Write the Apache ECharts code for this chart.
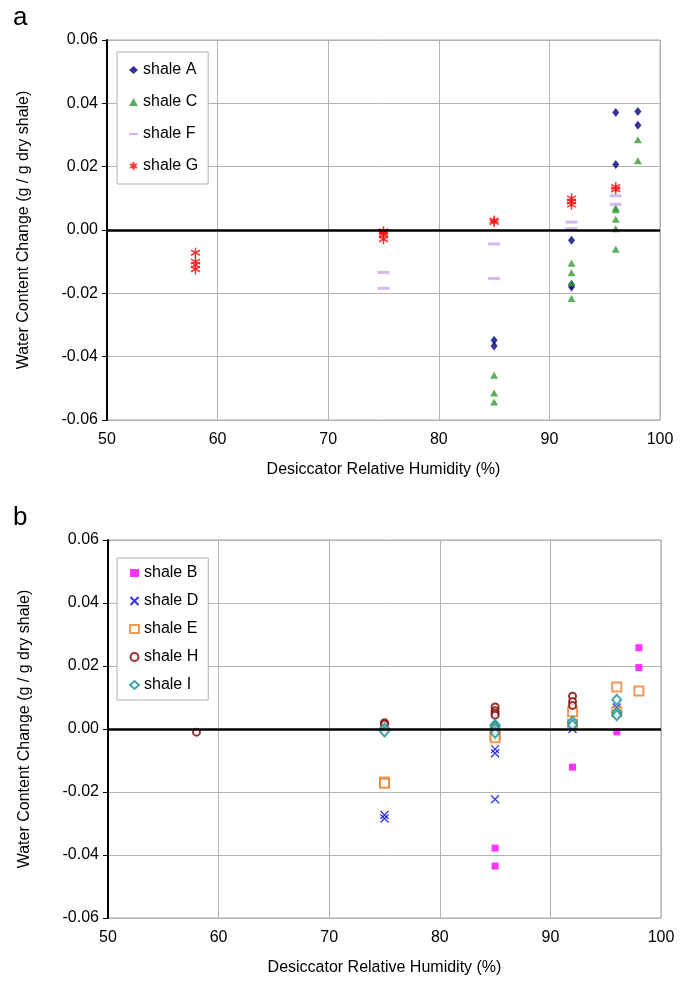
<!DOCTYPE html>
<html lang="en">
<head>
  <meta charset="utf-8">
  <title>Shale water content</title>
  <script src="https://cdn.jsdelivr.net/npm/echarts@6/dist/echarts.min.js"></script>
  <style>
    html, body { margin: 0; padding: 0; background: #fff; }
    #main { width: 680px; height: 982px; }
  </style>
</head>
<body>
  <div id="main"></div>
  <script>
    // panel a
    var shaleA = [[85, -0.0348], [85, -0.0366], [92, -0.0032], [92, -0.0172], [92, -0.0180],
                  [96, 0.0371], [96, 0.0207], [98, 0.0374], [98, 0.0331]];
    var shaleC = [[85, -0.0459], [85, -0.0515], [85, -0.0543],
                  [92, -0.0105], [92, -0.0135], [92, -0.0167], [92, -0.0216],
                  [96, 0.0070], [96, 0.0064], [96, 0.0034], [96, 0.0004], [96, -0.0061],
                  [98, 0.0285], [98, 0.0219]];
    var shaleF = [[75, -0.0134], [75, -0.0184], [85, -0.0044], [85, -0.0153],
                  [92, 0.0025], [92, 0.0004], [96, 0.0108], [96, 0.0081]];
    var shaleG = [[58, -0.0072], [58, -0.0100], [58, -0.0110], [58, -0.0124],
                  [75, -0.0004], [75, -0.0010], [75, -0.0016], [75, -0.0029],
                  [85, 0.0030], [85, 0.0025],
                  [92, 0.0100], [92, 0.0090], [92, 0.0080],
                  [96, 0.0136], [96, 0.0128]];
    // panel b
    var shaleB = [[85, -0.0378], [85, -0.0435], [92, -0.0121], [96, -0.0009],
                  [98, 0.0258], [98, 0.0195]];
    var shaleD = [[75, -0.0273], [75, -0.0284], [85, -0.0064], [85, -0.0077], [85, -0.0223],
                  [92, 0.0000], [96, 0.0068], [96, 0.0060]];
    var shaleE = [[75, -0.0168], [75, -0.0172], [85, -0.0020], [85, -0.0028],
                  [92, 0.0055], [92, 0.0015], [96, 0.0133], [96, 0.0055], [98, 0.0121]];
    var shaleH = [[58, -0.0010], [75, 0.0020], [75, 0.0015],
                  [85, 0.0070], [85, 0.0058], [85, 0.0050], [85, 0.0044],
                  [92, 0.0104], [92, 0.0087], [92, 0.0075]];
    var shaleI = [[75, 0.0002], [75, -0.0008], [85, 0.0013], [85, 0.0007], [85, -0.0001], [85, -0.0012],
                  [92, 0.0023], [92, 0.0013], [96, 0.0093], [96, 0.0052], [96, 0.0044]];

    var xTitle = 'Desiccator Relative Humidity (%)';
    var yTitle = 'Water Content Change (g / g dry shale)';
    var font = 'Liberation Sans, Arial, sans-serif';

    var asterisk = 'path://M5,0V10M0.7,2.5L9.3,7.5M0.7,7.5L9.3,2.5';
    var cross = 'path://M0,0L10,10M0,10L10,0';

    var myChart = echarts.init(document.getElementById('main'));

    function xAxisFor(idx) {
      return {
        gridIndex: idx, type: 'value', min: 50, max: 100, interval: 10,
        name: xTitle, nameLocation: 'middle', nameGap: 42,
        nameTextStyle: { fontFamily: font, fontSize: 16, color: '#000' },
        axisLine: { show: false }, axisTick: { show: false },
        axisLabel: { fontFamily: font, fontSize: 16, color: '#000', margin: 12 },
        splitLine: { show: true, lineStyle: { color: '#b4b4b4', width: 1 } }
      };
    }
    function yAxisFor(idx) {
      return {
        gridIndex: idx, type: 'value', min: -0.06, max: 0.06, interval: 0.02,
        name: yTitle, nameLocation: 'middle', nameGap: 75, nameRotate: 90,
        nameTextStyle: { fontFamily: font, fontSize: 16, color: '#000' },
        axisLine: { show: true, lineStyle: { color: '#000', width: 2 } },
        axisTick: { show: true, length: 5, lineStyle: { color: '#000' } },
        axisLabel: {
          fontFamily: font, fontSize: 16, color: '#000', margin: 9,
          formatter: function (v) { return Math.abs(v) < 1e-9 ? '0.00' : v.toFixed(2); }
        },
        splitLine: { show: true, lineStyle: { color: '#b4b4b4', width: 1 } }
      };
    }
    var zeroLine = {
      silent: true, symbol: 'none', label: { show: false },
      lineStyle: { color: '#000', width: 2.5, type: 'solid' },
      data: [{ yAxis: 0 }]
    };
    function sc(name, idx, data, symbol, size, style, extra) {
      var s = {
        name: name, type: 'scatter', xAxisIndex: idx, yAxisIndex: idx,
        data: data, symbol: symbol, symbolSize: size, itemStyle: style
      };
      if (extra) s.markLine = extra;
      return s;
    }

    var legendBase = {
      orient: 'vertical', backgroundColor: '#fff', borderColor: '#b0b0b0', borderWidth: 1,
      itemWidth: 9, itemHeight: 8, align: 'left',
      textStyle: { fontFamily: font, fontSize: 16, color: '#000' }
    };

    var option = {
      animation: false,
      title: [
        { text: 'a', left: 8, top: 0, textStyle: { fontFamily: font, fontSize: 26, fontWeight: 'normal', color: '#000' } },
        { text: 'b', left: 8, top: 500, textStyle: { fontFamily: font, fontSize: 26, fontWeight: 'normal', color: '#000' } }
      ],
      grid: [
        { left: 107, top: 40, width: 553, height: 380, show: true, borderColor: '#a8a8a8', borderWidth: 1 },
        { left: 108, top: 540, width: 553, height: 378, show: true, borderColor: '#a8a8a8', borderWidth: 1 }
      ],
      legend: [
        Object.assign({}, legendBase, {
          left: 117, top: 52, itemGap: 16, padding: [10, 10, 10, 12],
          data: [
            { name: 'shale A' }, { name: 'shale C' },
            { name: 'shale F', icon: 'path://M0,0H12V3H0Z' }, { name: 'shale G' }
          ]
        }),
        Object.assign({}, legendBase, {
          left: 117, top: 558, itemGap: 12, padding: [7, 10, 7, 12],
          data: ['shale B', 'shale D', 'shale E', 'shale H', 'shale I']
        })
      ],
      xAxis: [xAxisFor(0), xAxisFor(1)],
      yAxis: [yAxisFor(0), yAxisFor(1)],
      series: [
        sc('shale A', 0, shaleA, 'diamond', [7, 9], { color: '#000080' }, zeroLine),
        sc('shale C', 0, shaleC, 'triangle', [8, 7], { color: '#339933' }),
        sc('shale F', 0, shaleF, 'rect', [12, 3], { color: '#c9a6ef' }),
        sc('shale G', 0, shaleG, asterisk, [9, 10], { color: '#ff0000', borderColor: '#ff0000', borderWidth: 1.5 }),
        sc('shale B', 1, shaleB, 'rect', 7, { color: '#ff00ff' }, zeroLine),
        sc('shale D', 1, shaleD, cross, 8, { color: '#0000ff', borderColor: '#0000ff', borderWidth: 1.3 }),
        sc('shale E', 1, shaleE, 'emptyRect', 9, { color: '#ee8030', borderColor: '#ee8030', borderWidth: 1.5 }),
        sc('shale H', 1, shaleH, 'emptyCircle', 7, { color: '#800000', borderColor: '#800000', borderWidth: 1.5 }),
        sc('shale I', 1, shaleI, 'emptyDiamond', [9, 10], { color: '#1a9090', borderColor: '#1a9090', borderWidth: 1.2 })
      ]
    };
    myChart.setOption(option);
  </script>
</body>
</html>
